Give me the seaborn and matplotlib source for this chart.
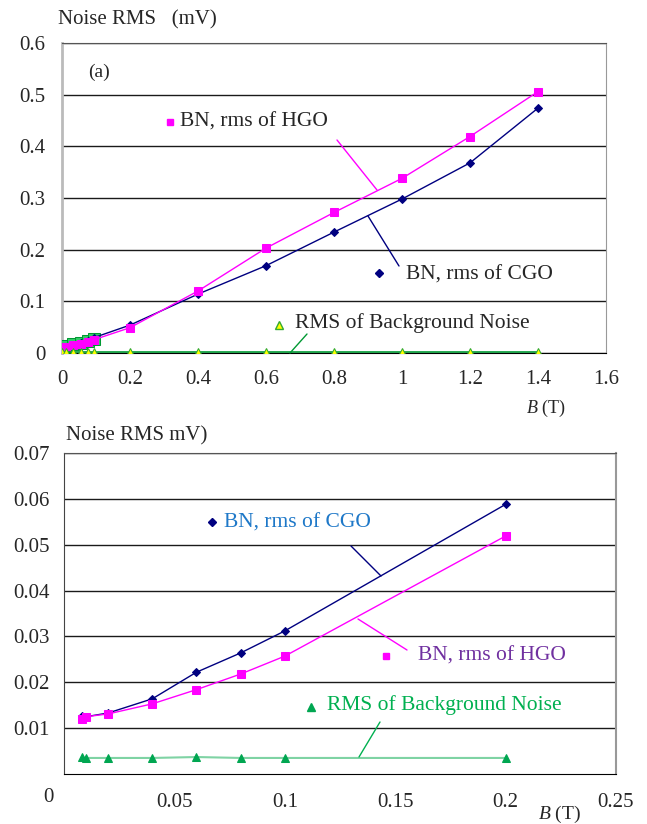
import numpy as np
import pandas as pd
import matplotlib
matplotlib.use("Agg")
import matplotlib.pyplot as plt
from matplotlib.lines import Line2D
import seaborn as sns

# Top panel (a): full range of B
b_top = [0, 0.012, 0.033, 0.055, 0.075, 0.095, 0.2, 0.4, 0.6, 0.8, 1.0, 1.2, 1.4]
cgo_top = [0.011, 0.012, 0.016, 0.020, 0.024, 0.030, 0.054, 0.114, 0.169, 0.234, 0.298, 0.368, 0.474]
hgo_top = [0.010, 0.012, 0.015, 0.018, 0.022, 0.026, 0.049, 0.120, 0.203, 0.272, 0.338, 0.419, 0.506]
bg_top = [0.001, 0.001, 0.001, 0.001, 0.001, 0.001, 0.001, 0.001, 0.001, 0.001, 0.001, 0.001, 0.001]
# green squares hidden under the HGO points near the origin
b_green_sq = [0, 0.012, 0.033, 0.055, 0.075, 0.095]
green_sq = [0.012, 0.013, 0.017, 0.020, 0.024, 0.028]

# Bottom panel: low field detail
b_low = [0.008, 0.01, 0.02, 0.04, 0.06, 0.08, 0.1, 0.2]
cgo_low = [0.0126, 0.0125, 0.0133, 0.0164, 0.0222, 0.0264, 0.0312, 0.0588]
hgo_low = [0.0121, 0.0125, 0.0131, 0.0153, 0.0184, 0.0218, 0.0257, 0.0519]
bg_low = [0.0036, 0.0035, 0.0035, 0.0035, 0.0037, 0.0035, 0.0035, 0.0035]

top_xticks = [0, 0.2, 0.4, 0.6, 0.8, 1, 1.2, 1.4, 1.6]
top_xlabels = ["0", "0.2", "0.4", "0.6", "0.8", "1", "1.2", "1.4", "1.6"]
top_yticks = [0, 0.1, 0.2, 0.3, 0.4, 0.5, 0.6]
top_ylabels = ["0", "0.1", "0.2", "0.3", "0.4", "0.5", "0.6"]
low_xticks = [0.05, 0.1, 0.15, 0.2, 0.25]
low_xlabels = ["0.05", "0.1", "0.15", "0.2", "0.25"]
low_yticks = [0.01, 0.02, 0.03, 0.04, 0.05, 0.06, 0.07]
low_ylabels = ["0.01", "0.02", "0.03", "0.04", "0.05", "0.06", "0.07"]

NAVY = "#000080"
MAGENTA = "#FF00FF"
GREEN = "#00A651"
SERIF = ["Liberation Serif", "DejaVu Serif"]

sns.set_style("white")
plt.rcParams['font.family'] = SERIF
plt.rcParams['mathtext.fontset'] = 'custom'
plt.rcParams['mathtext.it'] = 'Liberation Serif:italic'
plt.rcParams['mathtext.rm'] = 'Liberation Serif'

W, H = 647, 824
fig = plt.figure(figsize=(W / 100, H / 100), dpi=100)


def fx(x):
    return x / W


def fy(y):
    return 1 - y / H


def box(l, t, r, b):
    return [fx(l), fy(b), fx(r) - fx(l), fy(t) - fy(b)]


ax1 = fig.add_axes(box(62, 43, 606, 353))
ax2 = fig.add_axes(box(64, 453, 616, 774))

# ---- top panel ----
sns.lineplot(x=b_green_sq, y=green_sq, ax=ax1, color="#33CC66", marker="s", markersize=8,
             linestyle="none", markeredgecolor="#009933", sort=False, estimator=None, zorder=3)
sns.lineplot(x=b_top, y=cgo_top, ax=ax1, color=NAVY, lw=1, marker="D", markersize=4,
             markeredgecolor=NAVY, sort=False, estimator=None, zorder=4)
sns.lineplot(x=b_top, y=hgo_top, ax=ax1, color=MAGENTA, lw=1, marker="s", markersize=6,
             markeredgecolor=MAGENTA, sort=False, estimator=None, zorder=5)
sns.lineplot(x=b_top, y=bg_top, ax=ax1, color="#009933", lw=1.2, marker="^", markersize=6,
             markerfacecolor="#FFFF00", markeredgecolor="#33AA33", sort=False, estimator=None, zorder=6)

ax1.set_xlim(0, 1.6)
ax1.set_ylim(0, 0.6)
ax1.set_xticks(top_xticks)
ax1.set_xticklabels(top_xlabels, fontfamily=SERIF)
ax1.set_yticks(top_yticks)
ax1.set_yticklabels(top_ylabels, fontfamily=SERIF)
ax1.grid(axis="y", color="#1a1a1a", lw=1.0)
ax1.tick_params(axis="both", labelsize=15, length=4, width=1, color="#333333", direction="out")
ax1.tick_params(axis="x", pad=8)
ax1.tick_params(axis="y", pad=8)
ax1.spines["left"].set_color("#BBBBBB")
ax1.spines["left"].set_linewidth(2)
ax1.spines["right"].set_color("#999999")
ax1.spines["top"].set_color("#555555")
ax1.spines["bottom"].set_color("#000000")
for s in ax1.spines.values():
    s.set_visible(True)
ax1.set_xlabel("")
ax1.set_ylabel("")

# ---- bottom panel ----
sns.lineplot(x=b_low, y=cgo_low, ax=ax2, color=NAVY, lw=1, marker="D", markersize=4,
             markeredgecolor=NAVY, sort=False, estimator=None, zorder=4)
sns.lineplot(x=b_low, y=hgo_low, ax=ax2, color=MAGENTA, lw=1, marker="s", markersize=6,
             markeredgecolor=MAGENTA, sort=False, estimator=None, zorder=5)
sns.lineplot(x=b_low, y=bg_low, ax=ax2, color="#7FD3A4", lw=1.5, marker="^", markersize=6,
             markerfacecolor=GREEN, markeredgecolor=GREEN, sort=False, estimator=None, zorder=6)

ax2.set_xlim(0, 0.25)
ax2.set_ylim(0, 0.07)
ax2.set_xticks(low_xticks)
ax2.set_xticklabels(low_xlabels, fontfamily=SERIF)
ax2.set_yticks(low_yticks)
ax2.set_yticklabels(low_ylabels, fontfamily=SERIF)
ax2.grid(axis="y", color="#1a1a1a", lw=1.0)
ax2.tick_params(axis="both", labelsize=15, length=4, width=1, color="#333333", direction="out")
ax2.tick_params(axis="x", pad=10, color="#00B050")
ax2.tick_params(axis="y", pad=6)
ax2.spines["left"].set_color("#444444")
ax2.spines["right"].set_color("#999999")
ax2.spines["right"].set_linewidth(1.5)
ax2.spines["top"].set_color("#555555")
ax2.spines["bottom"].set_color("#000000")
for s in ax2.spines.values():
    s.set_visible(True)
ax2.set_xlabel("")
ax2.set_ylabel("")

# ---- axis titles and labels ----
fig.text(fx(58), fy(20), "Noise RMS   (mV)", fontsize=15, va="center", ha="left")
fig.text(fx(66), fy(436), "Noise RMS mV)", fontsize=15, va="center", ha="left")
fig.text(fx(526), fy(408), r"$B$ (T)", fontsize=13, va="center", ha="left")
fig.text(fx(538), fy(814), r"$B$ (T)", fontsize=14, va="center", ha="left")
fig.text(fx(48), fy(797), "0", fontsize=15, va="center", ha="center")
fig.text(fx(88), fy(72), "(a)", fontsize=14, va="center", ha="left")


def key(x, y, **kw):
    fig.add_artist(Line2D([fx(x)], [fy(y)], linestyle="none", **kw))


def leader(x0, y0, x1, y1, color):
    fig.add_artist(Line2D([fx(x0), fx(x1)], [fy(y0), fy(y1)], color=color, lw=1))


# top panel labels
key(170, 122, marker="s", markersize=5, color=MAGENTA)
fig.text(fx(180), fy(122), "BN, rms of HGO", fontsize=15.5, va="center", ha="left")
leader(337, 140, 377, 190, MAGENTA)

key(379, 273, marker="D", markersize=4, color=NAVY)
fig.text(fx(406), fy(275), "BN, rms of CGO", fontsize=15.5, va="center", ha="left")
leader(368, 216, 399, 266, NAVY)

key(279, 325, marker="^", markersize=6, markerfacecolor="#FFFF00", markeredgecolor="#33AA33")
fig.text(fx(295), fy(323), "RMS of Background Noise", fontsize=15.5, va="center", ha="left")
leader(290, 353, 307, 334, "#009933")

# bottom panel labels
key(212, 522, marker="D", markersize=4, color=NAVY)
fig.text(fx(224), fy(523), "BN, rms of CGO", fontsize=15.5, va="center", ha="left", color="#1E78C8")
leader(351, 546, 381, 576, NAVY)

key(386, 656, marker="s", markersize=5, color=MAGENTA)
fig.text(fx(418), fy(656), "BN, rms of HGO", fontsize=15.5, va="center", ha="left", color="#7030A0")
leader(358, 619, 407, 650, MAGENTA)

key(311, 707, marker="^", markersize=6, color=GREEN)
fig.text(fx(327), fy(705), "RMS of Background Noise", fontsize=15.5, va="center", ha="left", color="#00B050")
leader(359, 757, 380, 722, "#00B050")

fig.savefig("out.png", dpi=100)
